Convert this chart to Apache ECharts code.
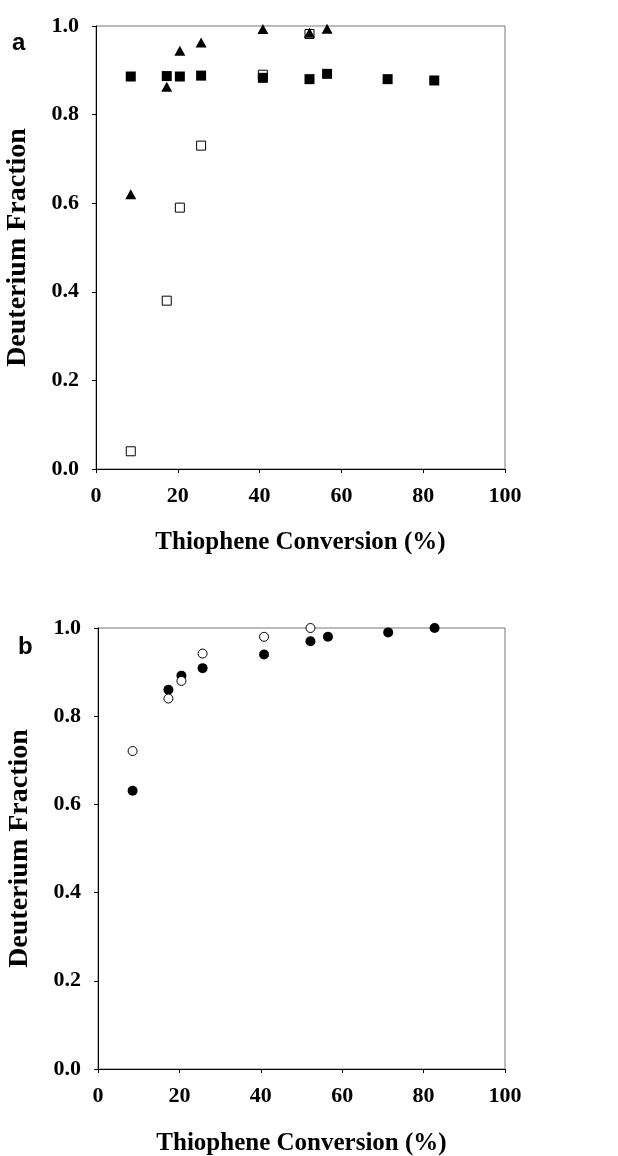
<!DOCTYPE html>
<html>
<head>
<meta charset="utf-8">
<script src="https://cdn.jsdelivr.net/npm/echarts@6/dist/echarts.min.js"></script>
<style>
  html, body { margin: 0; padding: 0; background: #fff; }
  #container { width: 618px; height: 1156px; }
</style>
</head>
<body>
<div id="container"></div>
<script>
(function () {
    // thiophene conversion (%) of each run
    const conversion = [8.5, 17.3, 20.5, 25.7, 40.8, 52.2, 56.5, 71.3, 82.7];

    // panel a
    const filledSquares = [0.886, 0.887, 0.886, 0.888, 0.883, 0.880, 0.892, 0.880, 0.877];
    const triangles = [0.62, 0.863, 0.944, 0.963, 0.993, 0.985, 0.994];
    const openSquares = [0.04, 0.38, 0.59, 0.73, 0.89, 0.982];

    // panel b
    const filledCircles = [0.631, 0.86, 0.892, 0.909, 0.940, 0.970, 0.980, 0.990, 1.0];
    const openCircles = [0.721, 0.840, 0.880, 0.942, 0.980, 1.0];

    const xTicks = [0, 20, 40, 60, 80, 100];
    const yTicks = [0.0, 0.2, 0.4, 0.6, 0.8, 1.0];

    const serif = '"Liberation Serif", "Times New Roman", serif';

    const pairs = (values) => values.map((v, i) => [conversion[i], v]);

    const xAxisFor = (gridIndex, nameGap) => ({
        gridIndex: gridIndex,
        type: 'value',
        min: xTicks[0],
        max: xTicks[xTicks.length - 1],
        interval: 20,
        name: 'Thiophene Conversion (%)',
        nameLocation: 'middle',
        nameGap: nameGap,
        nameTextStyle: { fontFamily: serif, fontWeight: 'bold', fontSize: 25, color: '#000' },
        axisLine: { show: true, onZero: false, lineStyle: { color: '#000', width: 1 } },
        axisTick: { show: true, inside: false, length: 4, lineStyle: { color: '#000' } },
        axisLabel: { margin: 16, fontFamily: serif, fontWeight: 'bold', fontSize: 22, color: '#000' },
        splitLine: { show: false }
    });

    const yAxisFor = (gridIndex) => ({
        gridIndex: gridIndex,
        type: 'value',
        min: yTicks[0],
        max: yTicks[yTicks.length - 1],
        interval: 0.2,
        name: 'Deuterium Fraction',
        nameLocation: 'middle',
        nameGap: 64,
        nameTextStyle: { fontFamily: serif, fontWeight: 'bold', fontSize: 28, color: '#000' },
        axisLine: { show: true, onZero: false, lineStyle: { color: '#000', width: 1 } },
        axisTick: { show: true, inside: false, length: 4, lineStyle: { color: '#000' } },
        axisLabel: {
            margin: 17, fontFamily: serif, fontWeight: 'bold', fontSize: 22, color: '#000',
            formatter: (v) => v.toFixed(1)
        },
        splitLine: { show: false }
    });

    const openStyle = { color: '#fff', borderColor: '#000', borderWidth: 1, opacity: 1 };
    const filledStyle = { color: '#000', opacity: 1 };

    var dom = document.getElementById('container');
    var myChart = echarts.init(dom, null, { renderer: 'canvas' });

    myChart.setOption({
        animation: false,
        backgroundColor: '#fff',
        grid: [
            { left: 96, top: 26, width: 409, height: 443, outerBoundsMode: 'none', containLabel: false,
              show: true, borderColor: '#777', borderWidth: 1 },
            { left: 98, top: 628, width: 407, height: 441, outerBoundsMode: 'none', containLabel: false,
              show: true, borderColor: '#777', borderWidth: 1 }
        ],
        xAxis: [xAxisFor(0, 61), xAxisFor(1, 62)],
        yAxis: [yAxisFor(0), yAxisFor(1)],
        graphic: [
            { type: 'text', left: 12, top: 31, style: { text: 'a', font: 'bold 24px "Liberation Sans", Arial, sans-serif', fill: '#000' } },
            { type: 'text', left: 18, top: 635, style: { text: 'b', font: 'bold 24px "Liberation Sans", Arial, sans-serif', fill: '#000' } }
        ],
        series: [
            {
                name: 'open squares', type: 'scatter', xAxisIndex: 0, yAxisIndex: 0,
                symbol: 'rect', symbolSize: 9, itemStyle: openStyle,
                data: pairs(openSquares)
            },
            {
                name: 'filled squares', type: 'scatter', xAxisIndex: 0, yAxisIndex: 0,
                symbol: 'rect', symbolSize: 10, itemStyle: filledStyle,
                data: pairs(filledSquares)
            },
            {
                name: 'triangles', type: 'scatter', xAxisIndex: 0, yAxisIndex: 0,
                symbol: 'triangle', symbolSize: [11, 10], itemStyle: filledStyle,
                data: pairs(triangles)
            },
            {
                name: 'filled circles', type: 'scatter', xAxisIndex: 1, yAxisIndex: 1,
                symbol: 'circle', symbolSize: 10, itemStyle: filledStyle,
                data: pairs(filledCircles)
            },
            {
                name: 'open circles', type: 'scatter', xAxisIndex: 1, yAxisIndex: 1,
                symbol: 'circle', symbolSize: 9, itemStyle: openStyle,
                data: pairs(openCircles)
            }
        ]
    });
})();
</script>
</body>
</html>
